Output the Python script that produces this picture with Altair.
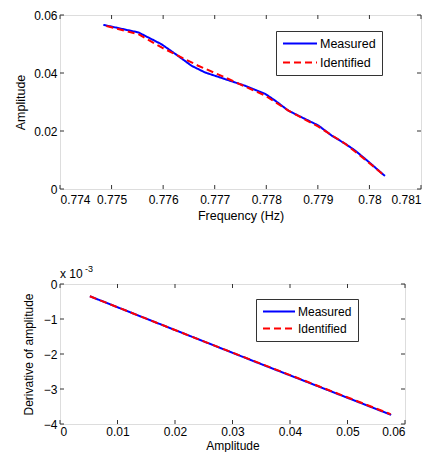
import altair as alt
import pandas as pd

# ---- top panel data ----
meas_freq = [0.77484, 0.77552, 0.77597, 0.77629, 0.77655, 0.77681, 0.77720, 0.77759,
             0.77798, 0.77817, 0.77843, 0.77869, 0.77901, 0.77927, 0.77953, 0.77972,
             0.77995, 0.78030]
meas_amp = [0.0566, 0.0540, 0.0499, 0.0459, 0.0425, 0.0402, 0.0379, 0.0356,
            0.0328, 0.0305, 0.0270, 0.0247, 0.0219, 0.0184, 0.0156, 0.0133,
            0.0099, 0.0045]
ident_freq = [0.77490, 0.77552, 0.77597, 0.77668, 0.77720, 0.77759, 0.77798,
              0.77843, 0.77901, 0.77953, 0.77992, 0.78030]
ident_amp = [0.0562, 0.0534, 0.0488, 0.0425, 0.0385, 0.0353, 0.0322,
             0.0270, 0.0215, 0.0156, 0.0101, 0.0045]

# ---- bottom panel data ----
b_meas_amp = [0.0052, 0.0150, 0.0250, 0.0350, 0.0450, 0.0576]
b_meas_der = [-0.00035, -0.00099, -0.00164, -0.00229, -0.00293, -0.00374]
b_ident_amp = [0.0052, 0.0150, 0.0250, 0.0350, 0.0450, 0.0575]
b_ident_der = [-0.00035, -0.00099, -0.00164, -0.00228, -0.00292, -0.00372]

series_names = ["Measured", "Identified"]
series_colors = ["#0000FF", "#FF0000"]
series_dash = [[1, 0], [7, 4]]

top_xticks = [0.774, 0.775, 0.776, 0.777, 0.778, 0.779, 0.780, 0.781]
top_yticks = [0.0, 0.02, 0.04, 0.06]
bot_xticks = [0.0, 0.01, 0.02, 0.03, 0.04, 0.05, 0.06]
bot_yticks = [0.0, -0.001, -0.002, -0.003, -0.004]

top_df = pd.concat([
    pd.DataFrame({"x": meas_freq, "y": meas_amp, "s": "Measured", "o": 0}),
    pd.DataFrame({"x": ident_freq, "y": ident_amp, "s": "Identified", "o": 1}),
])
bot_df = pd.concat([
    pd.DataFrame({"x": b_meas_amp, "y": b_meas_der, "s": "Measured", "o": 0}),
    pd.DataFrame({"x": b_ident_amp, "y": b_ident_der, "s": "Identified", "o": 1}),
])

FONT = "Liberation Sans"
FRAME = "#333333"


def panel(df, W, H, xdom, ydom, xticks, yticks, xtitle, ytitle, yfmt, fs, lx, ly,
          sym, rowpad, ytp, xlp, xtp):
    ax_common = dict(grid=False, ticks=False, domain=False, labelFont=FONT,
                     titleFont=FONT, labelColor="black", titleColor="black",
                     labelFontSize=12, titleFontSize=fs, titleFontWeight="normal")
    xs = alt.Scale(domain=xdom, nice=False, zero=False)
    ys = alt.Scale(domain=ydom, nice=False, zero=False)
    xax = alt.Axis(values=xticks, format="~g", title=xtitle,
                   labelPadding=xlp, titlePadding=xtp, **ax_common)
    yax = alt.Axis(values=yticks, labelExpr=yfmt, title=ytitle,
                   labelPadding=3, titlePadding=ytp, **ax_common)
    lines = alt.Chart(df).mark_line(strokeWidth=2).encode(
        x=alt.X("x:Q", scale=xs, axis=xax),
        y=alt.Y("y:Q", scale=ys, axis=yax),
        color=alt.Color("s:N", scale=alt.Scale(domain=series_names, range=series_colors),
                        legend=alt.Legend(title=None, orient="none", legendX=lx, legendY=ly,
                                          symbolType="stroke", symbolSize=sym,
                                          symbolStrokeWidth=2, labelFont=FONT,
                                          labelFontSize=fs, labelColor="black",
                                          strokeColor=FRAME, fillColor="white",
                                          padding=6, rowPadding=rowpad, labelOffset=2,
                                          clipHeight=13)),
        strokeDash=alt.StrokeDash("s:N", scale=alt.Scale(domain=series_names, range=series_dash),
                                  legend=alt.Legend(title=None, orient="none", legendX=lx,
                                                    legendY=ly)),
        order="o:Q",
    )
    xt = pd.DataFrame({"x": xticks})
    yt = pd.DataFrame({"y": yticks})
    tb = alt.Chart(xt).mark_rule(color=FRAME).encode(
        x=alt.X("x:Q", scale=xs, axis=xax), y=alt.value(H), y2=alt.value(H - 4))
    tt = alt.Chart(xt).mark_rule(color=FRAME).encode(
        x=alt.X("x:Q", scale=xs, axis=xax), y=alt.value(0), y2=alt.value(4))
    tl = alt.Chart(yt).mark_rule(color=FRAME).encode(
        y=alt.Y("y:Q", scale=ys, axis=yax), x=alt.value(0), x2=alt.value(4))
    tr = alt.Chart(yt).mark_rule(color=FRAME).encode(
        y=alt.Y("y:Q", scale=ys, axis=yax), x=alt.value(W), x2=alt.value(W - 4))
    return [tb, tt, tl, tr, lines]


top = alt.layer(*panel(top_df, 361, 174, [0.774, 0.781], [0, 0.06], top_xticks, top_yticks,
                       "Frequency (Hz)", "Amplitude", "format(datum.value, '~g')", 12.5,
                       216, 16, 1156, 6, 6, 5, 4)).properties(width=361, height=174)

exp_df = pd.DataFrame({"t": ["x 10"]})
sup_df = pd.DataFrame({"t": ["-3"]})
exp_text = alt.Chart(exp_df).mark_text(font=FONT, fontSize=12, align="left",
                                       baseline="bottom", color="black").encode(
    text="t:N", x=alt.value(0), y=alt.value(-3))
sup_text = alt.Chart(sup_df).mark_text(font=FONT, fontSize=9, align="left",
                                       baseline="bottom", color="black").encode(
    text="t:N", x=alt.value(25), y=alt.value(-10))

bottom = alt.layer(*panel(bot_df, 345, 140, [0, 0.06], [-0.004, 0], bot_xticks, bot_yticks,
                          "Amplitude", "Derivative of amplitude",
                          "format(datum.value * 1000, 'd')", 12, 196, 15, 1024, 4, 8, 2, 3),
                   exp_text, sup_text).properties(width=345, height=140)

chart = alt.vconcat(top, bottom, spacing=42).resolve_scale(
    color="independent", strokeDash="independent", x="independent", y="independent"
).resolve_legend(color="independent", strokeDash="independent").properties(
    padding={"left": 6, "top": 0, "right": 5, "bottom": 0}
).configure_view(stroke=FRAME, strokeWidth=1).configure(background="white")

chart.save("out.html", embed_options={"renderer": "svg", "actions": False})
